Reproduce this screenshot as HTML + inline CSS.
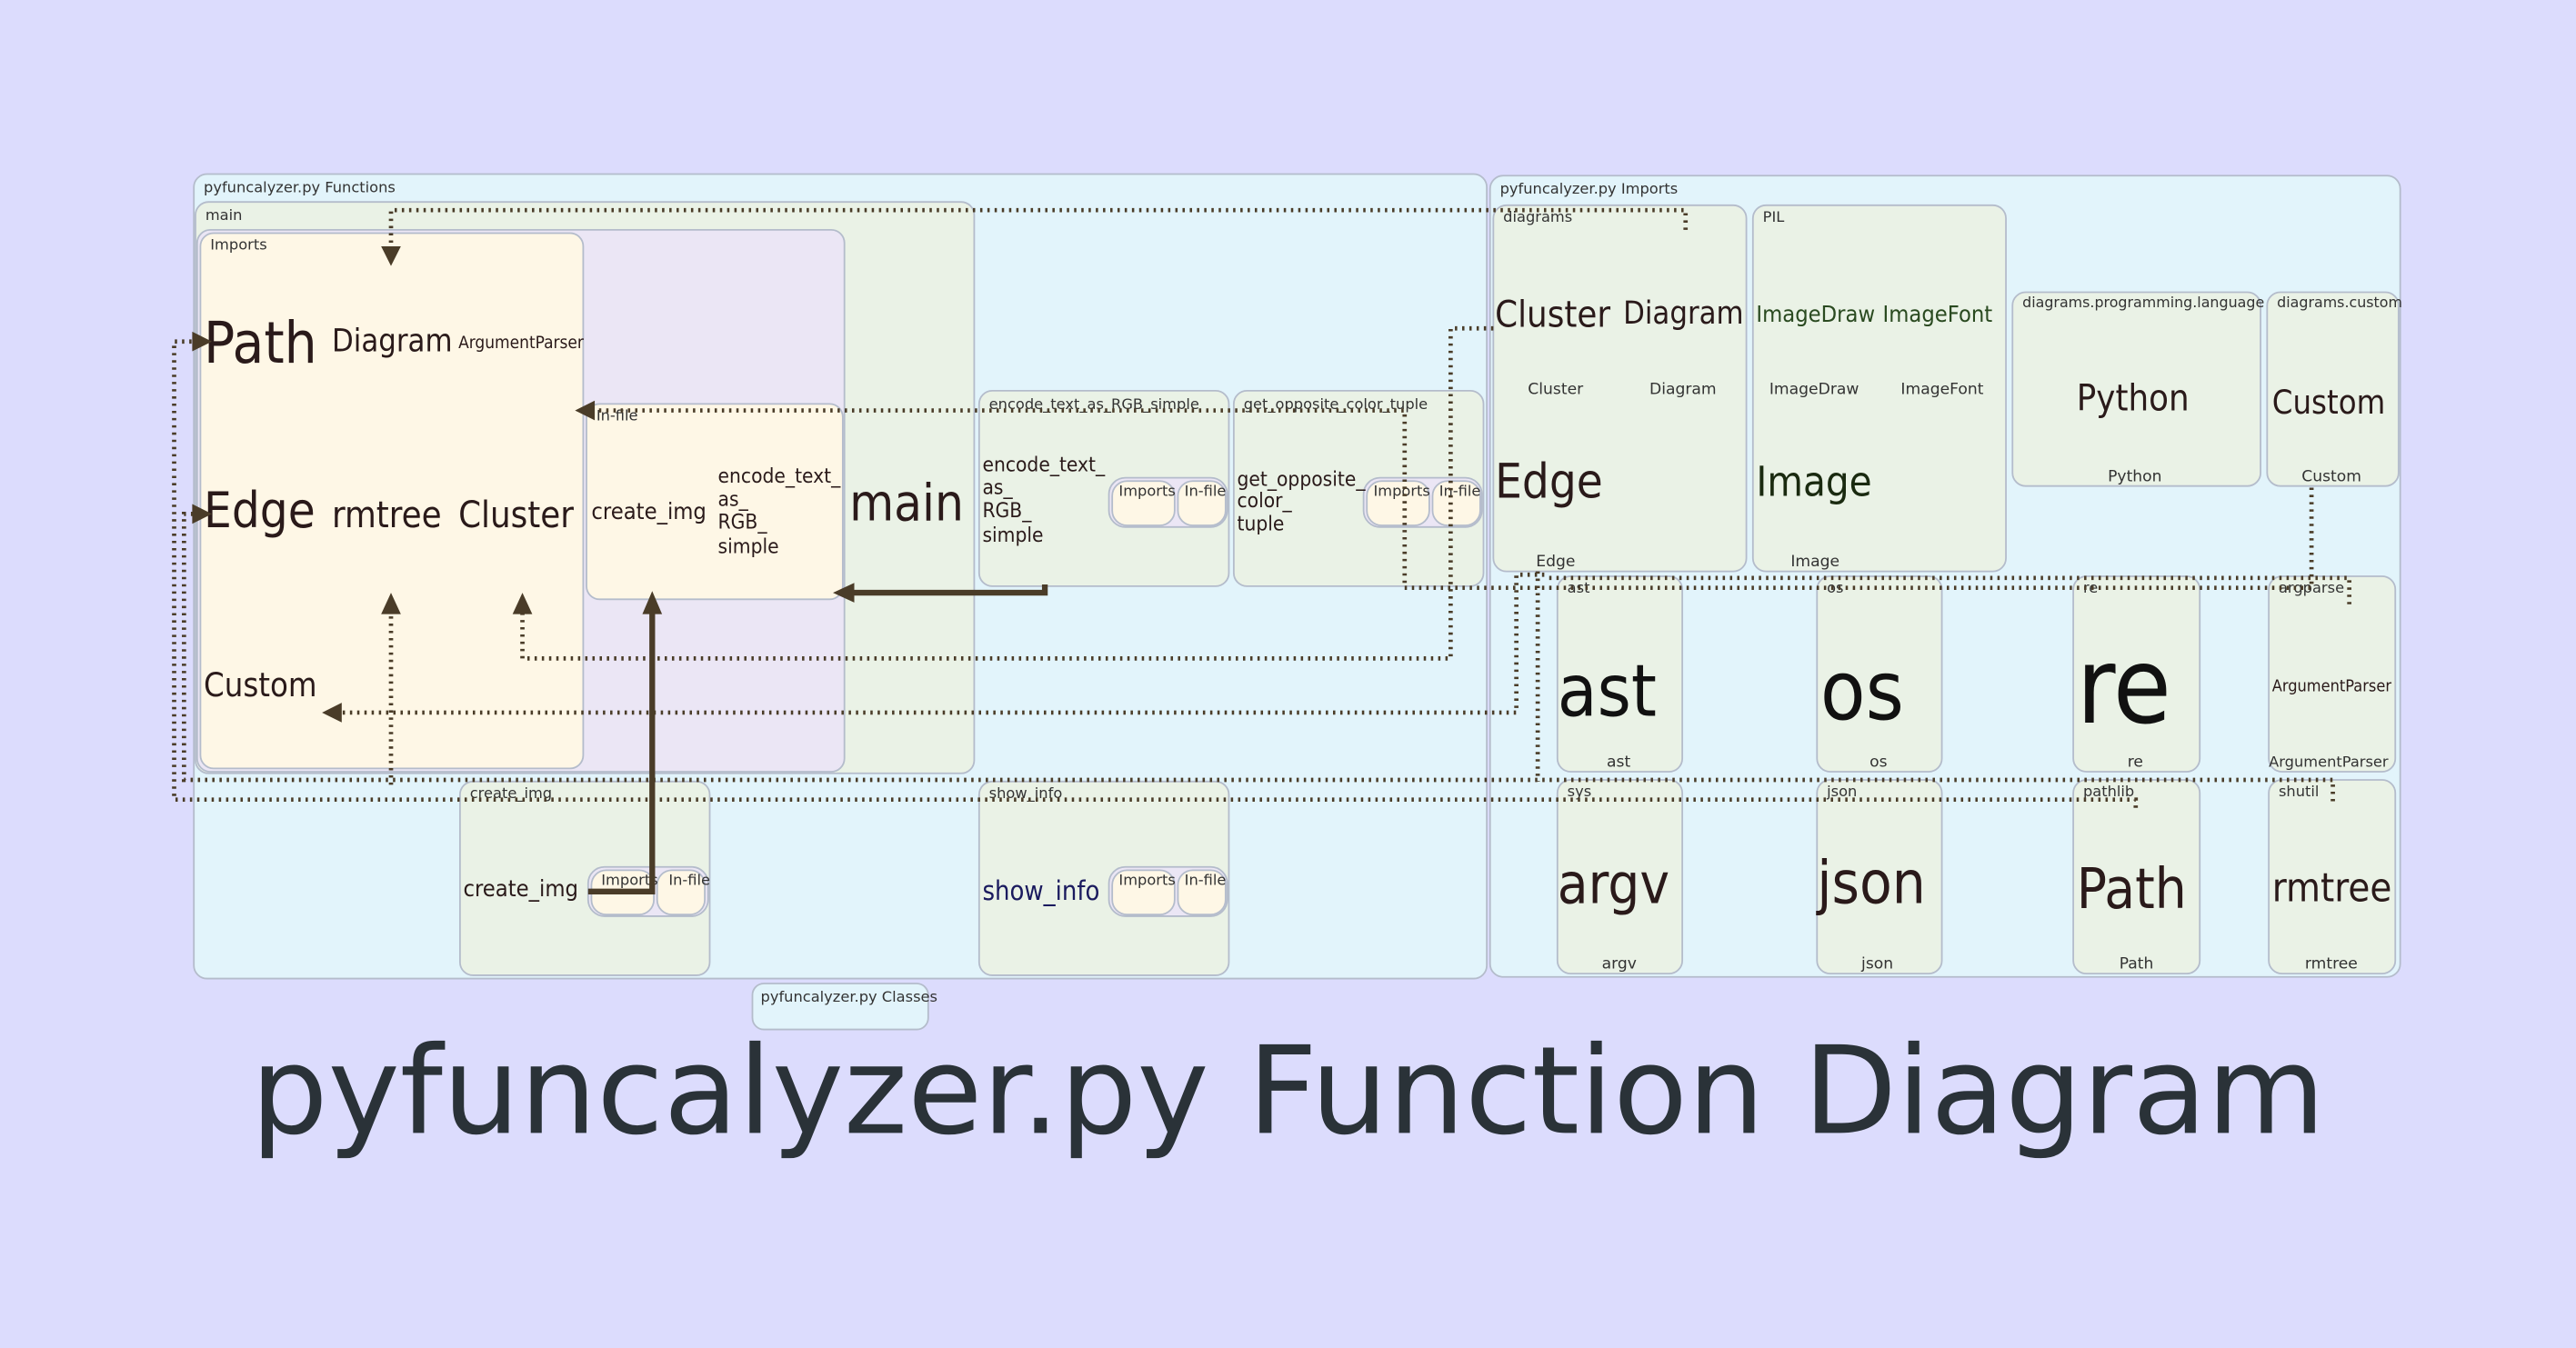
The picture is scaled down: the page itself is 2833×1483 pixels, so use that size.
<!DOCTYPE html>
<html><head><meta charset="utf-8"><style>
html,body{margin:0;padding:0;background:#dcdcfd;}
svg{display:block}
text{font-family:"DejaVu Sans Condensed","DejaVu Sans","Liberation Sans",sans-serif;fill:#2a1a1a}
.lbl{font-size:9px;fill:#333;font-family:"DejaVu Sans",sans-serif}
.sm{font-size:9.5px;fill:#333;font-family:"DejaVu Sans",sans-serif}
.d{fill:none;stroke:#4a3c28;stroke-width:2.6;stroke-dasharray:1.4 3}
.s{fill:none;stroke:#4a3c28;stroke-width:3.5}
.ah{fill:#4a3c28}
</style></head><body>
<svg width="2833" height="1483" viewBox="0 0 1568 821" preserveAspectRatio="none" xmlns="http://www.w3.org/2000/svg">
<rect x="0" y="0" width="1568" height="821" fill="#dcdcfd"/>
<g stroke="#b4bccb" stroke-width="1">
<rect x="118" y="106" width="787" height="490" rx="8" fill="#e2f4fb"/>
<rect x="119" y="123" width="474" height="348" rx="8" fill="#eaf2e6"/>
<rect x="120" y="140" width="394" height="330" rx="8" fill="#ebe6f5"/>
<rect x="122" y="142" width="233" height="326" rx="8" fill="#fef7e6"/>
<rect x="357" y="246" width="156" height="119" rx="8" fill="#fef7e6"/>
<rect x="596" y="238" width="152" height="119" rx="8" fill="#eaf2e6"/>
<rect x="751" y="238" width="152" height="119" rx="8" fill="#eaf2e6"/>
<rect x="280" y="476" width="152" height="118" rx="8" fill="#eaf2e6"/>
<rect x="596" y="476" width="152" height="118" rx="8" fill="#eaf2e6"/>
<rect x="675" y="291" width="72" height="30" rx="10" fill="#ebe6f5"/>
<rect x="677" y="293" width="38" height="27" rx="9" fill="#fef7e6"/>
<rect x="717" y="293" width="29" height="27" rx="9" fill="#fef7e6"/>
<rect x="830" y="291" width="72" height="30" rx="10" fill="#ebe6f5"/>
<rect x="832" y="293" width="38" height="27" rx="9" fill="#fef7e6"/>
<rect x="872" y="293" width="29" height="27" rx="9" fill="#fef7e6"/>
<rect x="358" y="528" width="73" height="30" rx="10" fill="#ebe6f5"/>
<rect x="360" y="530" width="38" height="27" rx="9" fill="#fef7e6"/>
<rect x="400" y="530" width="29" height="27" rx="9" fill="#fef7e6"/>
<rect x="675" y="528" width="72" height="30" rx="10" fill="#ebe6f5"/>
<rect x="677" y="530" width="38" height="27" rx="9" fill="#fef7e6"/>
<rect x="717" y="530" width="29" height="27" rx="9" fill="#fef7e6"/>
<rect x="458" y="599" width="107" height="28" rx="7" fill="#e2f4fb"/>
<rect x="907" y="107" width="554" height="488" rx="8" fill="#e2f4fb"/>
<rect x="909" y="125" width="154" height="223" rx="8" fill="#eaf2e6"/>
<rect x="1067" y="125" width="154" height="223" rx="8" fill="#eaf2e6"/>
<rect x="1225" y="178" width="151" height="118" rx="8" fill="#eaf2e6"/>
<rect x="1380" y="178" width="80" height="118" rx="8" fill="#eaf2e6"/>
<rect x="948" y="351" width="76" height="119" rx="8" fill="#eaf2e6"/>
<rect x="1106" y="351" width="76" height="119" rx="8" fill="#eaf2e6"/>
<rect x="1262" y="351" width="77" height="119" rx="8" fill="#eaf2e6"/>
<rect x="1381" y="351" width="77" height="119" rx="8" fill="#eaf2e6"/>
<rect x="948" y="475" width="76" height="118" rx="8" fill="#eaf2e6"/>
<rect x="1106" y="475" width="76" height="118" rx="8" fill="#eaf2e6"/>
<rect x="1262" y="475" width="77" height="118" rx="8" fill="#eaf2e6"/>
<rect x="1381" y="475" width="77" height="118" rx="8" fill="#eaf2e6"/>
</g>

<text class="lbl" x="124" y="117">pyfuncalyzer.py Functions</text>
<text class="lbl" x="125" y="134">main</text>
<text class="lbl" x="128" y="152">Imports</text>
<text class="lbl" x="363" y="256">In-file</text>
<text class="lbl" x="602" y="249">encode_text_as_RGB_simple</text>
<text class="lbl" x="757" y="249">get_opposite_color_tuple</text>
<text class="lbl" x="286" y="486">create_img</text>
<text class="lbl" x="602" y="486">show_info</text>
<text class="lbl" x="463" y="610">pyfuncalyzer.py Classes</text>
<text class="lbl" x="913" y="118">pyfuncalyzer.py Imports</text>
<text class="lbl" x="915" y="135">diagrams</text>
<text class="lbl" x="1073" y="135">PIL</text>
<text class="lbl" x="1231" y="187" style="font-size:8.8px">diagrams.programming.language</text>
<text class="lbl" x="1386" y="187" style="font-size:8.8px">diagrams.custom</text>
<text class="lbl" x="954" y="361">ast</text>
<text class="lbl" x="1112" y="361">os</text>
<text class="lbl" x="1268" y="361">re</text>
<text class="lbl" x="1387" y="361">argparse</text>
<text class="lbl" x="954" y="485">sys</text>
<text class="lbl" x="1112" y="485">json</text>
<text class="lbl" x="1268" y="485">pathlib</text>
<text class="lbl" x="1387" y="485">shutil</text>
<g>
<text class="lbl" x="681" y="302">Imports</text><text class="lbl" x="721" y="302">In-file</text>
<text class="lbl" x="836" y="302">Imports</text><text class="lbl" x="876" y="302">In-file</text>
<text class="lbl" x="366" y="539">Imports</text><text class="lbl" x="407" y="539">In-file</text>
<text class="lbl" x="681" y="539">Imports</text><text class="lbl" x="721" y="539">In-file</text>
</g>

<text x="124" y="221" style="font-size:35px">Path</text>
<text x="202" y="214" style="font-size:19px">Diagram</text>
<text x="279" y="212" style="font-size:10.5px">ArgumentParser</text>
<text x="124" y="321" style="font-size:30px">Edge</text>
<text x="202" y="321" style="font-size:22px">rmtree</text>
<text x="279" y="321" style="font-size:22px">Cluster</text>
<text x="124" y="424" style="font-size:20px">Custom</text>
<text x="360" y="316" style="font-size:14px">create_img</text>
<g style="font-size:12.5px"><text x="437" y="294">encode_text_</text><text x="437" y="308">as_</text><text x="437" y="322">RGB_</text><text x="437" y="337">simple</text></g>
<text x="517" y="317" style="font-size:31px">main</text>
<g style="font-size:12.5px"><text x="598" y="287">encode_text_</text><text x="598" y="301">as_</text><text x="598" y="315">RGB_</text><text x="598" y="330">simple</text></g>
<g style="font-size:12.5px"><text x="753" y="296">get_opposite_</text><text x="753" y="309">color_</text><text x="753" y="323">tuple</text></g>
<text x="282" y="546" style="font-size:14px">create_img</text>
<text x="598" y="548" style="font-size:16px;fill:#1a1a5e">show_info</text>

<text x="910" y="199" style="font-size:22px">Cluster</text>
<text x="988" y="197" style="font-size:19px">Diagram</text>
<text class="sm" x="930" y="240">Cluster</text>
<text class="sm" x="1004" y="240">Diagram</text>
<text x="910" y="303" style="font-size:29px">Edge</text>
<text class="sm" x="935" y="345">Edge</text>
<text x="1069" y="196" style="font-size:14px;fill:#2a4a20">ImageDraw</text>
<text x="1146" y="196" style="font-size:14px;fill:#2a4a20">ImageFont</text>
<text class="sm" x="1077" y="240">ImageDraw</text>
<text class="sm" x="1157" y="240">ImageFont</text>
<text x="1069" y="302" style="font-size:25px;fill:#1a2a10">Image</text>
<text class="sm" x="1090" y="345">Image</text>
<text x="1264" y="250" style="font-size:22px">Python</text>
<text class="sm" x="1283" y="293">Python</text>
<text x="1383" y="252" style="font-size:20px">Custom</text>
<text class="sm" x="1401" y="293">Custom</text>
<text x="948" y="436" style="font-size:44px;fill:#111">ast</text>
<text class="sm" x="978" y="467">ast</text>
<text x="1108" y="438" style="font-size:50px;fill:#111">os</text>
<text class="sm" x="1138" y="467">os</text>
<text x="1264" y="440" style="font-size:64px;fill:#111">re</text>
<text class="sm" x="1295" y="467">re</text>
<text x="1383" y="421" style="font-size:10px">ArgumentParser</text>
<text class="sm" x="1381" y="467" style="font-size:9px">ArgumentParser</text>
<text x="948" y="550" style="font-size:34px">argv</text>
<text class="sm" x="975" y="590">argv</text>
<text x="1106" y="550" style="font-size:36px">json</text>
<text class="sm" x="1133" y="590">json</text>
<text x="1264" y="553" style="font-size:34px">Path</text>
<text class="sm" x="1290" y="590">Path</text>
<text x="1383" y="549" style="font-size:24px">rmtree</text>
<text class="sm" x="1403" y="590">rmtree</text>

<text x="784" y="690" text-anchor="middle" style="font-family:'DejaVu Sans',sans-serif;font-size:74px;fill:#2a3238">pyfuncalyzer.py Function Diagram</text>

<polyline class="d" points="1026,140 1026,128 238,128 238,152"/>
<polygon class="ah" points="232,150 244,150 238,162"/>
<polyline class="d" points="1407,297 1407,358 855,358 855,250 360,250"/>
<polygon class="ah" points="362,244 362,256 350,250"/>
<polyline class="d" points="909,200 883,200 883,401 318,401 318,372"/>
<polygon class="ah" points="312,374 324,374 318,361"/>
<polyline class="d" points="238,478 238,372"/>
<polygon class="ah" points="232,374 244,374 238,361"/>
<polyline class="d" points="940,350 923,350 923,434 207,434"/>
<polygon class="ah" points="208,428 208,440 196,434"/>
<polyline class="d" points="1430,368 1430,352 940,352"/>
<polyline class="d" points="936,348 936,476"/>
<polyline class="d" points="1420,488 1420,475 112,475 112,313 118,313"/>
<polygon class="ah" points="117,307 117,319 129,313"/>
<polyline class="d" points="1300,492 1300,487 106,487 106,208 118,208"/>
<polygon class="ah" points="117,202 117,214 129,208"/>
<polyline class="s" points="636,356 636,361 518,361"/>
<polygon class="ah" points="520,355 520,367 507,361"/>
<polyline class="s" points="358,543 397,543 397,372"/>
<polygon class="ah" points="391,374 403,374 397,360"/>
</svg>
</body></html>
